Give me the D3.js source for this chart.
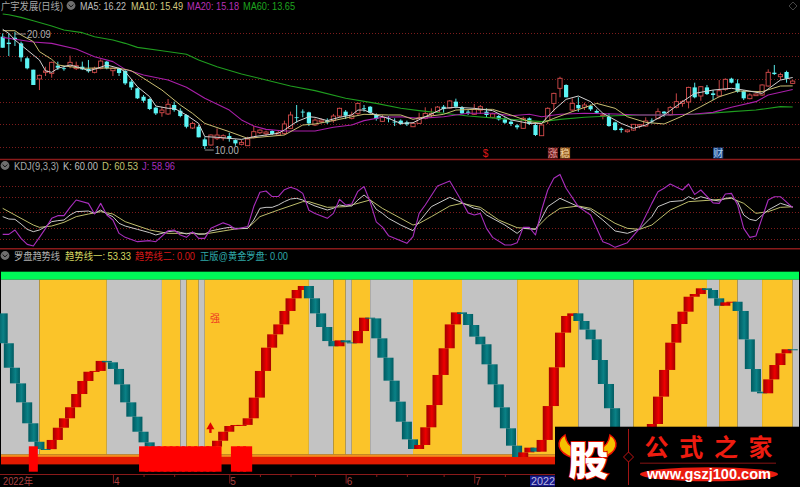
<!DOCTYPE html>
<html><head><meta charset="utf-8">
<script src="https://cdn.jsdelivr.net/npm/d3@7/dist/d3.min.js"></script>
<style>
html,body{margin:0;padding:0;background:#000;overflow:hidden}
svg{display:block}
text{font-family:"Liberation Sans","Noto Sans CJK SC",Arial,sans-serif}
</style></head><body>
<svg id="c" width="800" height="487"></svg>
<script>
// ---------- daily candles ----------
const highs=[20.06,20.06,20.20,19.34,18.03,16.90,16.47,17.16,17.60,17.60,17.16,18.12,17.60,17.60,17.74,17.16,17.80,17.65,17.07,17.07,16.87,16.00,15.34,14.70,14.41,13.68,13.68,14.35,14.12,13.54,13.02,12.38,12.09,11.02,11.28,11.80,11.28,11.42,10.84,10.78,11.07,12.00,11.71,11.60,11.65,11.60,12.47,13.25,13.83,13.45,13.25,12.67,12.67,12.67,13.05,13.60,13.39,13.25,14.03,13.83,13.74,13.10,12.96,12.87,12.67,12.58,12.47,12.29,13.16,13.63,13.54,13.74,13.83,14.26,14.38,13.74,13.39,13.92,13.83,13.54,13.16,12.96,12.76,12.52,12.18,12.81,12.75,12.18,12.18,13.63,14.90,16.29,15.63,14.41,14.50,14.03,13.88,13.45,13.10,13.10,12.38,11.89,11.71,12.18,12.18,12.76,12.67,13.54,13.31,13.74,14.84,14.26,15.42,15.77,15.48,15.57,15.13,16.00,16.15,16.20,16.06,15.13,14.84,14.84,15.63,16.93,17.31,16.64,16.81,16.00];
const lows=[18.81,18.09,18.96,17.60,16.93,15.57,15.13,16.35,16.20,16.87,16.81,17.02,16.87,16.87,16.64,16.58,16.93,16.93,16.35,16.35,15.57,15.13,14.35,14.03,13.39,12.96,12.81,12.96,13.25,12.76,11.80,11.74,11.02,10.00,10.29,10.78,10.73,10.64,10.29,10.32,10.26,10.93,11.31,11.13,11.22,11.13,11.22,11.80,12.29,12.76,12.00,12.00,12.23,12.18,12.29,12.76,12.61,12.58,12.96,13.25,13.05,12.47,12.35,12.32,12.00,12.09,12.00,11.94,12.18,12.58,12.76,13.16,13.16,13.51,13.54,13.05,12.96,12.96,13.05,12.76,12.67,12.47,12.18,12.00,11.71,11.77,12.09,11.13,11.13,12.18,13.25,14.50,14.50,13.25,13.25,13.39,13.31,13.05,12.58,11.94,11.60,11.42,11.42,11.60,11.80,11.94,12.23,12.58,12.81,12.90,13.54,13.68,13.54,14.41,14.20,14.70,14.26,14.50,15.07,15.71,14.90,14.26,14.32,14.61,14.61,15.42,16.44,16.00,15.77,15.65];
const opens=[19.77,19.25,19.68,19.19,17.89,16.90,16.09,16.67,16.58,17.25,17.02,17.22,16.99,17.16,16.96,16.67,17.02,17.60,16.81,17.02,16.79,15.86,15.28,14.55,14.35,13.60,13.16,13.05,13.83,13.33,12.96,11.83,11.94,10.84,10.35,10.90,10.96,11.13,10.78,10.41,10.29,10.99,11.42,11.33,11.57,11.22,11.36,11.80,12.76,13.25,13.19,12.09,12.38,12.47,12.47,12.87,13.25,12.67,13.10,13.54,13.68,12.96,12.41,12.67,12.38,12.47,12.32,11.94,12.23,12.67,12.96,13.22,13.68,13.57,14.12,13.60,13.25,13.02,13.39,13.25,12.76,12.87,12.58,12.38,12.06,11.80,12.67,12.09,11.16,12.47,13.97,15.28,15.57,13.39,13.83,13.63,13.74,13.31,12.87,12.81,12.32,11.77,11.51,11.65,12.00,12.00,12.47,12.67,13.25,12.96,13.63,13.97,14.09,15.36,14.61,15.36,14.84,14.61,15.19,16.12,15.71,15.04,14.38,14.64,14.70,15.48,16.64,16.29,16.70,15.71];
const closes=[18.81,19.13,19.48,17.97,17.02,15.57,16.41,16.79,17.54,17.07,16.96,17.54,17.25,16.93,16.76,17.02,17.65,17.02,17.02,16.61,15.71,15.36,14.41,14.20,13.48,13.10,13.39,13.89,13.39,12.87,11.94,12.23,11.02,10.26,11.22,11.22,11.16,10.90,10.49,10.58,10.87,11.51,11.65,11.48,11.31,11.42,12.18,12.96,12.70,13.19,12.23,12.52,12.52,12.32,12.87,13.54,12.90,12.96,13.97,13.48,13.16,12.61,12.76,12.61,12.32,12.18,12.15,12.23,12.72,13.10,13.10,13.65,13.48,14.18,13.68,13.10,13.16,13.45,13.68,12.96,13.05,12.58,12.29,12.18,11.89,12.67,12.18,11.22,12.09,13.54,14.84,16.15,14.50,13.97,13.54,13.83,13.45,13.16,12.96,12.00,11.65,11.65,11.65,12.15,12.12,12.44,12.41,13.25,13.10,13.60,14.12,14.12,15.36,14.50,15.42,14.78,14.70,15.07,16.06,15.77,14.99,14.41,14.70,14.78,15.57,16.67,16.52,16.47,16.12,15.91];
const priceGrid=[20.06,18.09,16.09,14.12,12.18,10.2];
// ---------- moving averages (read at the listed days) ----------
const ma5Days=[0,1,2,4,6,7,8,9,11,13,14,15,17,19,20,22,24,25,27,28,30,32,33,35,37,39,41,43,45,46,48,50,51,53,55,57,58,59,61,63,65,67,69,72,74,77,80,83,86,88,90,92,94,96,98,101,103,105,108,111,113,116,119,121,124,127,129];
const ma5=[20.41,20.06,19.48,18.61,17.74,16.79,16.67,17.02,17.31,17.02,16.81,16.93,17.31,17.02,16.73,15.42,14.55,13.74,13.54,13.54,12.96,12.23,11.08,11.02,10.93,10.84,11.08,11.22,11.37,11.66,12.38,12.81,12.76,12.47,12.76,12.96,13.39,13.39,12.96,12.67,12.23,12.29,12.81,13.54,13.63,13.54,13.34,12.53,12.23,12.23,13.39,14.32,14.61,14.12,13.11,12.23,11.80,12.09,12.96,14.12,14.84,15.13,15.28,15.13,14.84,16.00,16.22];
const ma10Days=[0,2,3,5,6,8,9,11,13,16,19,21,23,26,29,31,33,37,40,43,46,49,51,54,57,59,63,65,67,69,72,74,77,80,83,86,88,90,93,97,100,102,105,108,111,114,117,120,124,127,129];
const ma10=[20.29,20.29,19.92,19.34,18.47,17.80,17.31,17.16,17.02,17.05,17.02,16.81,16.15,15.13,13.83,13.10,12.23,11.51,10.93,11.08,11.22,12.09,12.18,12.47,12.81,13.02,12.96,12.96,12.58,12.81,13.02,13.39,13.45,13.45,12.96,12.38,12.23,12.67,13.25,13.97,13.54,12.81,12.32,12.18,12.87,13.69,14.55,15.05,14.99,15.48,15.49];
const ma20Days=[0,2,5,8,12,15,18,20,23,27,30,33,37,39,41,43,46,49,51,54,57,59,62,65,68,72,76,80,83,86,88,91,95,100,104,108,113,116,119,123,125,129];
const ma20=[19.71,19.54,19.31,19.19,18.70,18.03,17.60,16.93,16.44,16.00,15.37,14.41,13.39,12.53,12.00,11.71,11.57,11.57,11.57,11.89,12.09,12.47,12.76,12.81,12.67,12.81,13.11,13.11,12.90,13.02,12.81,13.02,13.11,13.05,12.96,12.96,13.05,13.19,13.63,14.12,14.70,15.18];
const ma60Days=[0,1,3,5,8,10,13,15,18,20,22,26,30,32,35,39,43,47,51,56,61,65,68,72,76,81,88,91,95,100,104,108,114,119,123,127,129];
const ma60=[21.74,21.68,21.45,21.16,20.70,20.35,20.12,19.77,19.48,19.19,18.84,18.55,18.24,17.74,17.16,16.53,16.00,15.48,15.08,14.41,13.97,13.54,13.34,13.11,12.87,12.67,12.38,12.58,12.76,12.90,12.96,12.96,13.05,13.25,13.39,13.69,13.65];
// ---------- KDJ ----------
const kDays=[0,1,2,3,4,5,6,7,8,9,10,11,12,14,15,16,17,18,19,20,22,24,25,27,28,29,30,31,32,33,34,36,37,38,40,41,42,43,44,45,46,47,48,49,50,51,53,54,55,56,57,58,59,60,61,62,63,65,67,68,70,73,75,77,78,79,82,84,85,87,88,89,91,94,96,98,100,102,104,106,107,109,111,112,113,114,116,117,118,119,120,121,122,123,125,127,129];
const kVals=[41.8,37.3,36.7,27.8,17.7,13.3,16.5,22.8,32.3,34.2,35.4,44.9,51.3,52.5,48.1,54.4,46.8,41.8,29.1,24,17.7,11.4,7,13.3,14.6,12,8.9,12,8.2,8.9,14.6,19.6,21.5,19.6,19.6,35.4,57.6,59.5,59.5,63.9,70.3,75.3,76.6,73.4,67.1,62,54.4,57.6,63.9,62,62,73.4,82.9,73.4,55.7,48.1,38.6,25.9,15.2,32.3,60.8,78.5,68.4,57.6,55.7,44.9,25.9,10.1,19.6,17.7,38.6,60.8,76.6,60.8,54.4,35.4,14.6,10.1,18.4,41.8,60.8,70.3,72.2,79.7,74.7,79.7,73.4,71.5,76.6,77.8,70.3,44.9,36.7,34.2,54.4,67.1,60];
const dDays=[0,2,5,6,8,10,12,14,16,18,20,24,27,30,33,36,38,40,42,45,49,50,53,56,59,60,62,65,67,68,70,73,75,78,81,84,87,89,91,94,96,100,102,104,106,109,112,116,119,121,123,125,127,129];
const dVals=[57.6,44.9,25.9,21.5,24,31,41.8,46.8,51.3,46.8,32.3,16.5,10.1,10.1,8.9,14.6,18.4,19.6,41.8,54.4,70.3,70.3,59.5,60.8,70.3,73.4,57.6,38.6,25.9,29.1,41.8,62,67.1,59.5,35.4,20.9,18.4,41.8,57.6,62,57.6,29.1,19.6,17.7,25.9,54.4,70.3,73.4,76.6,67.1,48.1,51.3,59.5,60.53];
const jDays=[0,1,2,3,4,5,6,7,8,9,10,11,12,14,15,16,17,18,19,20,22,24,25,27,28,29,30,31,32,33,34,36,37,38,40,41,42,43,44,45,46,47,48,49,50,51,53,54,55,56,57,58,59,60,61,62,63,65,66,67,68,69,71,73,75,76,77,78,79,80,82,83,84,85,86,87,88,89,90,91,92,94,96,98,99,100,102,104,106,107,108,109,111,112,113,114,116,117,118,119,120,121,122,123,125,126,127,129];
const jVals=[8.2,8.2,16.5,0.6,-10.8,-13.9,2.5,19.6,38.6,43.7,43.7,59.5,73.4,67,46.8,67,44.9,35.4,10,2.5,-5.7,-3.8,-5.7,15,16.5,7,2.5,13,0.6,0.6,19.6,30,26,18,23,61,88,90.5,80,80,93,97.5,93.7,86,54,48,38.6,48,74.7,64,65.8,89.9,99,70,32,22,5.7,-3.8,-8.9,3.8,48,63.9,100,109.5,70,49,45,48,19.6,2.5,-12,-12,-7.6,21.5,21.5,7,54.4,92.4,114.6,122,95.6,60.8,45,-5.7,-10,-16.5,-7.6,19.6,67,89,95.6,103.8,92.4,103.8,84,92.4,68,67,84.8,86,64,19.6,2.5,5,73.4,79.7,79.7,58.96];
const kdjGrid=[100,80,50,20,0];
// ---------- trend panel ----------
const trendStart=71.6;
const trend=[56.7,44.5,36.7,27.25,16.8,7.6,4.0,3.9,8.5,14.6,19.3,24.8,31.4,37.9,42.5,42.9,47.9,47.2,43.9,36.2,27.25,20.1,12.6,7.3,5.15,4.0,3.0,2.3,1.8,1.3,1.3,1.8,2.7,3.5,5.15,8.1,12.6,15.45,15.95,16.0,19.3,29.6,42.9,54.5,61.15,66.1,72.8,79.1,83.25,85.25,79.1,71.6,64.8,57.8,55.2,58.15,57.15,56.7,62.8,69.45,69.1,59.15,49.5,38.05,27.6,17.6,8.8,4.0,6.0,14.8,25.9,40.9,54.2,66.1,72.1,71.3,65.8,60.0,56.2,46.2,36.2,24.75,14.3,5.65,0.0,2.3,4.65,2.65,8.5,25.4,44.7,62.0,70.3,71.6,67.8,63.5,58.65,48.35,36.4,24.3,12.6,4.3,0.5,0.2,1.5,6.0,16.45,30.1,43.4,57.0,66.3,72.45,79.9,81.25,84.1,83.25,79.1,75.4,77.1,77.4,72.8,58.65,43.85,32.55,31.75,38.7,45.85,51.7,53.7,53.33];
const bandStarts=[0,6,17,26,29,30,32,33,50,54,56,57,60,67,75,84,94,103,115,117,120,124,129];
const bandKinds=["g","y","g","y","g","y","g","y","g","y","g","y","g","y","g","y","g","y","g","y","g","y","g"];
const strongDays=[5,23,24,25,26,27,28,29,30,31,32,33,34,35,38,39,40];
const monthTicks=[18,37,56,77];
const monthLabels=["4","5","6","7"];
const weekTicks=[23,28,42,47,51,61,66,72,82];
const dayCount=closes.length;

const svg=d3.select("#c");
const x=d3.scaleLinear().domain([0,dayCount-1]).range([2.7,792.7]);
const yP=d3.scaleLinear().domain([10,20.09]).range([149.04,33]);
const yK=d3.scaleLinear().domain([0,100]).range([238.67,186]);
const yT=d3.scaleLinear().domain([0,100]).range([457,256.4]);

const defs=svg.append("defs");
function grad(id,edge,mid){
  const g=defs.append("linearGradient").attr("id",id).attr("x1",0).attr("x2",1).attr("y1",0).attr("y2",0);
  g.append("stop").attr("offset","0%").attr("stop-color",edge);
  g.append("stop").attr("offset","55%").attr("stop-color",mid);
  g.append("stop").attr("offset","100%").attr("stop-color",edge);
}
grad("gUp","#a00000","#ee0000");
grad("gDn","#005a60","#0a8186");
const goldG=defs.append("linearGradient").attr("id","gOrange").attr("x1",0).attr("x2",0).attr("y1",0).attr("y2",1);
goldG.append("stop").attr("offset","0%").attr("stop-color","#f5a52a");
goldG.append("stop").attr("offset","100%").attr("stop-color","#ee6a10");

svg.append("rect").attr("width",800).attr("height",487).attr("fill","#000");

function dotted(vals,scale){
  svg.append("g").selectAll("line").data(vals).join("line")
    .attr("x1",0).attr("x2",800).attr("y1",d=>Math.round(scale(d))+.5).attr("y2",d=>Math.round(scale(d))+.5)
    .attr("stroke","#7d1c1c").attr("stroke-width",1).attr("stroke-dasharray","1 2");
}
dotted(priceGrid,yP);
dotted(kdjGrid,yK);

// candles
const days=d3.range(dayCount);
const gC=svg.append("g");
gC.selectAll("line").data(days).join("line")
  .attr("x1",d=>x(d)).attr("x2",d=>x(d)).attr("y1",d=>yP(highs[d])).attr("y2",d=>yP(lows[d]))
  .attr("stroke",d=>closes[d]>=opens[d]?"#c84646":"#57e6e6").attr("stroke-width",1);
gC.selectAll("rect").data(days).join("rect")
  .attr("x",d=>x(d)-2.1).attr("width",4.2)
  .attr("y",d=>yP(Math.max(opens[d],closes[d])))
  .attr("height",d=>Math.max(.8,Math.abs(yP(opens[d])-yP(closes[d]))))
  .attr("fill",d=>closes[d]>=opens[d]?"#000":"#5cf5f5")
  .attr("stroke",d=>closes[d]>=opens[d]?"#d24a4a":"none").attr("stroke-width",.9);

function sline(ds,vs,sc,col,w){
  const l=d3.line().x(d=>x(d[0])).y(d=>sc(d[1]));
  svg.append("path").attr("d",l(ds.map((d,i)=>[d,vs[i]]))).attr("fill","none")
    .attr("stroke",col).attr("stroke-width",w||1).attr("stroke-linejoin","round");
}
sline(ma60Days,ma60,yP,"#1f9d1f",1.1);
sline(ma20Days,ma20,yP,"#a91fa9",1.1);
sline(ma10Days,ma10,yP,"#c8bd72",1);
sline(ma5Days,ma5,yP,"#d2d2d2",1);

// high / low notes
const hlCol="#b0b0b0";
function note(day,val,dx,label,w){
  svg.append("line").attr("x1",x(day)).attr("x2",x(day)+dx).attr("y1",yP(val)+1).attr("y2",yP(val)+1).attr("stroke",hlCol).attr("stroke-width",.8);
  svg.append("text").attr("x",x(day)+dx+1).attr("y",yP(val)+5).attr("font-size",10).attr("fill",hlCol)
    .attr("textLength",w).attr("lengthAdjust","spacingAndGlyphs").text(label);
}
note(2,20.09,11,"20.09",24);
note(33,10.00,9,"10.00",24);

// event tags
function tag(day,txt,bg,fg){
  const g=svg.append("g").attr("transform",`translate(${x(day)-1},153)`);
  if(bg) g.append("rect").attr("x",-5).attr("y",-5.5).attr("width",10).attr("height",11).attr("fill",bg);
  g.append("text").attr("text-anchor","middle").attr("y",4).attr("font-size",10).attr("fill",fg).text(txt);
}
tag(79,"$",null,"#e01818");
tag(90,"涨","#6e1c1c","#e09a9a");
tag(92,"稳","#9a6224","#f0d0a0");
tag(117,"财","#1c4a88","#b0d0f0");

// panel separators
[159.5,248.7,474.5].forEach((yy,i)=>svg.append("line").attr("x1",0).attr("x2",800).attr("y1",yy).attr("y2",yy).attr("stroke","#8a1a1a").attr("stroke-width",i==2?1:1.4));

// KDJ lines
sline(dDays,dVals,yK,"#bdbd6c",1);
sline(kDays,kVals,yK,"#c8c8c8",1);
sline(jDays,jVals,yK,"#a92ebd",1.1);

// trend panel
svg.append("rect").attr("x",1).attr("y",271.7).attr("width",798).attr("height",8).attr("fill","#00f858");
const bg=svg.append("g");
bandStarts.forEach((s,i)=>{
  const e=i+1<bandStarts.length?x(bandStarts[i+1]):799;
  const a=i==0?1:x(s);
  bg.append("rect").attr("x",a).attr("y",279.7).attr("width",e-a).attr("height",174.8)
    .attr("fill",bandKinds[i]=="y"?"#fbc429":"#c3c3c3");
});
svg.append("rect").attr("x",1).attr("y",454.4).attr("width",798).attr("height",2.8).attr("fill","url(#gOrange)");
svg.append("rect").attr("x",1).attr("y",457).attr("width",798).attr("height",7.4).attr("fill","#e31a00");
svg.append("g").selectAll("rect").data(days).join("rect")
  .attr("x",d=>x(d)-5).attr("width",10)
  .attr("y",d=>Math.min(yT(d?trend[d-1]:trendStart),yT(trend[d])))
  .attr("height",d=>Math.max(1,Math.abs(yT(d?trend[d-1]:trendStart)-yT(trend[d]))))
  .attr("fill",d=>trend[d]>=(d?trend[d-1]:trendStart)?"url(#gUp)":"url(#gDn)");
svg.append("g").selectAll("rect").data(strongDays).join("rect")
  .attr("x",d=>x(d)-4.5).attr("width",9).attr("y",446.3).attr("height",25.4).attr("fill","#ff0000");
// arrow + label
const ax=x(34)-.5, ay=yT(14);
svg.append("path").attr("d",d3.symbol(d3.symbolTriangle,28)()).attr("transform",`translate(${ax},${ay-2})`).attr("fill","#e00000");
svg.append("rect").attr("x",ax-1.2).attr("y",ay-1).attr("width",2.4).attr("height",5).attr("fill","#e00000");
svg.append("text").attr("x",x(35)-2).attr("y",yT(69.3)+4).attr("text-anchor","middle").attr("font-size",10).attr("fill","#ee3322").text("强");

// axis
const axMajor=d3.axisBottom(x).tickValues(monthTicks).tickFormat((d,i)=>monthLabels[i]).tickSize(9).tickSizeOuter(0).tickPadding(-7);
const gA=svg.append("g").attr("transform","translate(0,474.5)").call(axMajor);
gA.select(".domain").remove();
gA.selectAll("line").attr("stroke","#8a1a1a");
gA.selectAll("text").attr("fill","#a84040").attr("font-size",10).attr("text-anchor","start").attr("dx",0.5).attr("y",10.5).attr("dy",0);
const gW=svg.append("g").attr("transform","translate(0,474.5)").call(d3.axisBottom(x).tickValues(weekTicks).tickFormat("").tickSize(2.5).tickSizeOuter(0));
gW.select(".domain").remove();
gW.selectAll("line").attr("stroke","#8a1a1a");
svg.append("text").attr("x",3).attr("y",485).attr("font-size",10).attr("fill","#a84040").attr("textLength",30).attr("lengthAdjust","spacingAndGlyphs").text("2022年");
svg.append("rect").attr("x",530).attr("y",475.5).attr("width",26).attr("height",11).attr("fill","#1a1a8c");
svg.append("text").attr("x",531).attr("y",485).attr("font-size",10).attr("fill","#b8b8e0").attr("textLength",24).attr("lengthAdjust","spacingAndGlyphs").text("2022");

// headers
function hdr(px,py,txt,col,w){svg.append("text").attr("x",px).attr("y",py).attr("font-size",10).attr("fill",col)
  .attr("textLength",w).attr("lengthAdjust","spacingAndGlyphs").text(txt);}
function knob(cx,cy){
  svg.append("circle").attr("cx",cx).attr("cy",cy).attr("r",4.4).attr("fill","#6f6f6f");
  svg.append("path").attr("d",`M${cx-2.4},${cy-1} L${cx},${cy+1.4} L${cx+2.4},${cy-1}`).attr("fill","none").attr("stroke","#111").attr("stroke-width",1);
}
hdr(1,10,"广宇发展(日线)","#a8a8a8",62); knob(71,5.5);
hdr(80,10,"MA5: 16.22","#bdbdbd",46);
hdr(131,10,"MA10: 15.49","#d2c880",52);
hdr(187,10,"MA20: 15.18","#b52fb5",52);
hdr(243,10,"MA60: 13.65","#1fa51f",52);
knob(5,165.5);
hdr(14,169.5,"KDJ(9,3,3)","#a8a8a8",45);
hdr(63,169.5,"K: 60.00","#bdbdbd",35);
hdr(102,169.5,"D: 60.53","#c2c070",36);
hdr(142,169.5,"J: 58.96","#a92ebd",33);
knob(5,255.5);
hdr(14,259.5,"罗盘趋势线","#b0b0b0",46);
hdr(65,259.5,"趋势线一: 53.33","#d8d860",66);
hdr(135,259.5,"趋势线二: 0.00","#d81818",60);
hdr(200,259.5,"正版@黄金罗盘: 0.00","#2fa8a8",88);
// corner diamond
svg.append("path").attr("d","M793,2 L797,6 L793,10 L789,6 Z").attr("fill","none").attr("stroke","#444");

// watermark
const w=svg.append("g");
w.append("rect").attr("x",555).attr("y",426.7).attr("width",245).attr("height",60.3).attr("fill","#000");
w.append("path").attr("d","M565,435 C556,441 556,452 573,458 L576,449 C570,447 566,442 565,435 Z M610,435 C619,441 619,452 602,458 L599,449 C605,447 609,442 610,435 Z")
  .attr("fill","#f4c000").attr("stroke","#ee1100").attr("stroke-width",1.5);
w.append("text").attr("x",588.5).attr("y",475).attr("text-anchor","middle").attr("font-size",40).attr("font-weight",900)
  .attr("font-family","'Noto Sans CJK SC'").attr("fill","#fff").attr("stroke","#e01000").attr("stroke-width",1.8).attr("paint-order","stroke").text("股");
w.append("line").attr("x1",628.5).attr("x2",628.5).attr("y1",429).attr("y2",485).attr("stroke","#a01414");
w.append("path").attr("d","M628.5,452 L633.5,457 L628.5,462 L623.5,457 Z").attr("fill","#000").attr("stroke","#c01414");
["公","式","之","家"].forEach((t,i)=>w.append("text").attr("x",656.5+i*34.7).attr("y",456).attr("text-anchor","middle")
  .attr("font-size",24).attr("font-weight",700).attr("font-family","'Noto Sans CJK SC'").attr("fill","#ee1c10").text(t));
w.append("line").attr("x1",640).attr("x2",776).attr("y1",463.2).attr("y2",463.2).attr("stroke","#5a0d0d").attr("stroke-width",1.5);
w.append("ellipse").attr("cx",709).attr("cy",474.3).attr("rx",69).attr("ry",7).attr("fill","#ea1c10");
w.append("text").attr("x",709).attr("y",479.3).attr("text-anchor","middle").attr("font-size",14).attr("font-weight",700)
  .attr("font-family","'DejaVu Sans'").attr("fill","#fff").attr("textLength",124).attr("lengthAdjust","spacingAndGlyphs").text("www.gszj100.com");
</script>
</body></html>
